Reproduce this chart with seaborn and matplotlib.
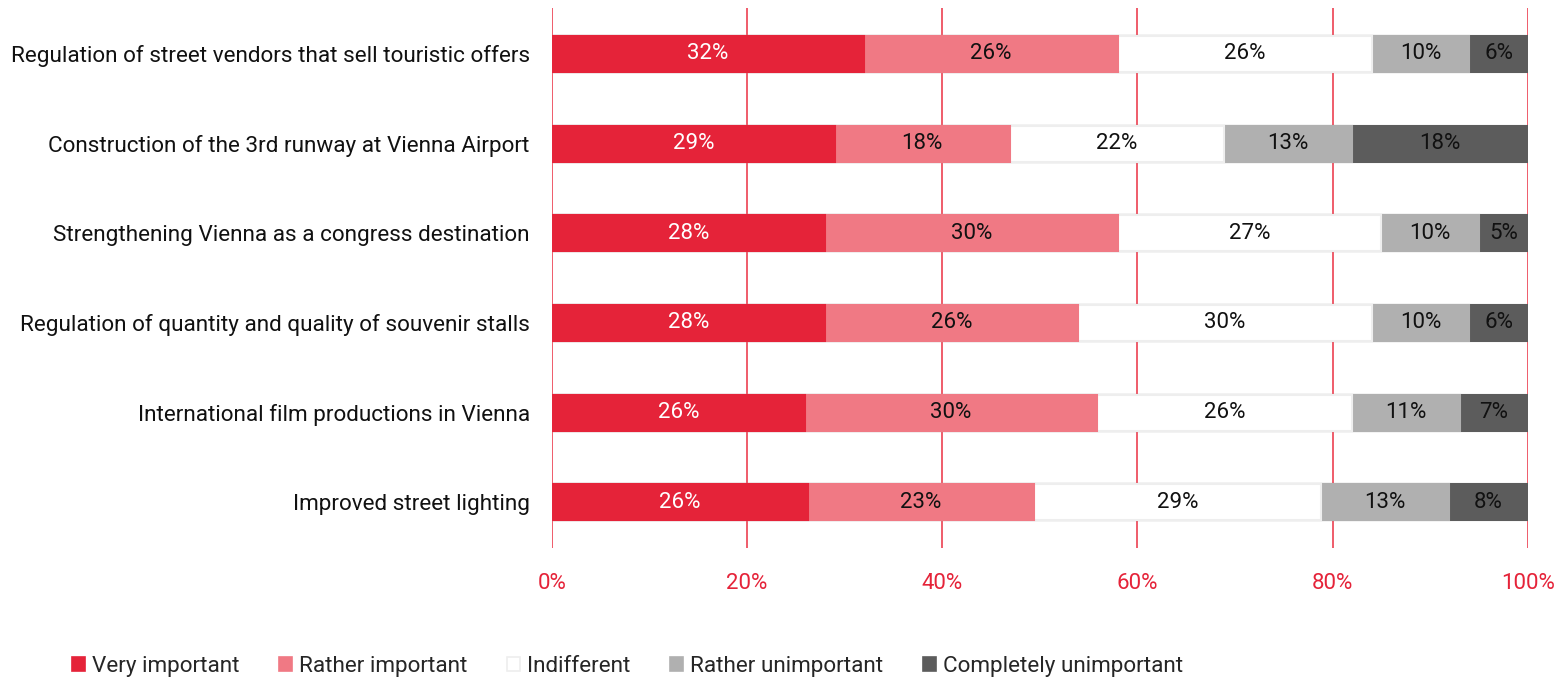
import numpy as np
import pandas as pd
import matplotlib
matplotlib.use("Agg")
import matplotlib.pyplot as plt
import seaborn as sns
from matplotlib.patches import Patch

# data (share of answers, %)
items = [
    "Regulation of street vendors that sell touristic offers",
    "Construction of the 3rd runway at Vienna Airport",
    "Strengthening Vienna as a congress destination",
    "Regulation of quantity and quality of souvenir stalls",
    "International film productions in Vienna",
    "Improved street lighting",
]
very_important = [32.0, 29.0, 28.0, 28.0, 25.9, 26.2]
rather_important = [26.0, 17.9, 30.0, 25.9, 30.0, 23.2]
indifferent = [26.0, 22.0, 27.0, 30.1, 26.1, 29.4]
rather_unimportant = [10.0, 13.1, 10.0, 10.0, 11.0, 13.1]
completely_unimportant = [6.0, 18.0, 5.0, 6.0, 7.0, 8.1]

answers = ["Very important", "Rather important", "Indifferent",
           "Rather unimportant", "Completely unimportant"]
colors = ["#e52339", "#f07984", "#ffffff", "#b0b0b0", "#5c5c5c"]
label_colors = ["white", "#111111", "#111111", "#111111", "#111111"]

sns.set_theme(style="white")
plt.rcParams["font.family"] = ["Roboto", "DejaVu Sans"]

df = pd.DataFrame({
    "item": items,
    answers[0]: very_important,
    answers[1]: rather_important,
    answers[2]: indifferent,
    answers[3]: rather_unimportant,
    answers[4]: completely_unimportant,
})
cum = df[answers].cumsum(axis=1)

fig = plt.figure(figsize=(15.59, 6.8), dpi=100)
ax = fig.add_axes([0.354, 0.194, 0.626, 0.794])

# gridlines below bars
for x in range(0, 101, 20):
    ax.axvline(x, color="#ee4f5f", lw=1.3, zorder=0)

# stacked bars: draw cumulative totals from the longest down
for i in range(len(answers) - 1, -1, -1):
    col = answers[i]
    edge = "#eeeeee" if colors[i] == "#ffffff" else colors[i]
    sns.barplot(data=cum.assign(item=df["item"]), x=col, y="item", orient="h",
                color=colors[i], saturation=1, width=0.4, edgecolor=edge,
                linewidth=1.5, ax=ax, order=items, zorder=2)

# segment labels
for i, col in enumerate(answers):
    for j in range(len(items)):
        v = df[col].iloc[j]
        xc = cum[col].iloc[j] - v / 2
        ax.text(xc, j, f"{round(v):.0f}%", ha="center", va="center",
                fontsize=16, color=label_colors[i], zorder=5)

ax.set_xlim(0, 100)
ax.set_ylim(len(items) - 0.49, -0.51)
ax.set_xticks(range(0, 101, 20))
ax.set_xticklabels([f"{x}%" for x in range(0, 101, 20)])
ax.tick_params(axis="x", colors="#e52339", labelsize=16, length=0, pad=18)
ax.tick_params(axis="y", labelsize=16.2, length=0, pad=16, labelcolor="#111111")
ax.set_xlabel("")
ax.set_ylabel("")
for s in ax.spines.values():
    s.set_visible(False)

handles = [Patch(facecolor=c, edgecolor=("#eeeeee" if c == "#ffffff" else c), lw=1.2)
           for c in colors]
fig.legend(handles, answers, loc="center left", bbox_to_anchor=(0.033, 0.02),
           ncol=5, frameon=False, fontsize=16.2, handlelength=0.6, handleheight=0.6,
           handletextpad=0.3, columnspacing=1.75)

fig.savefig("out.png", dpi=100)
